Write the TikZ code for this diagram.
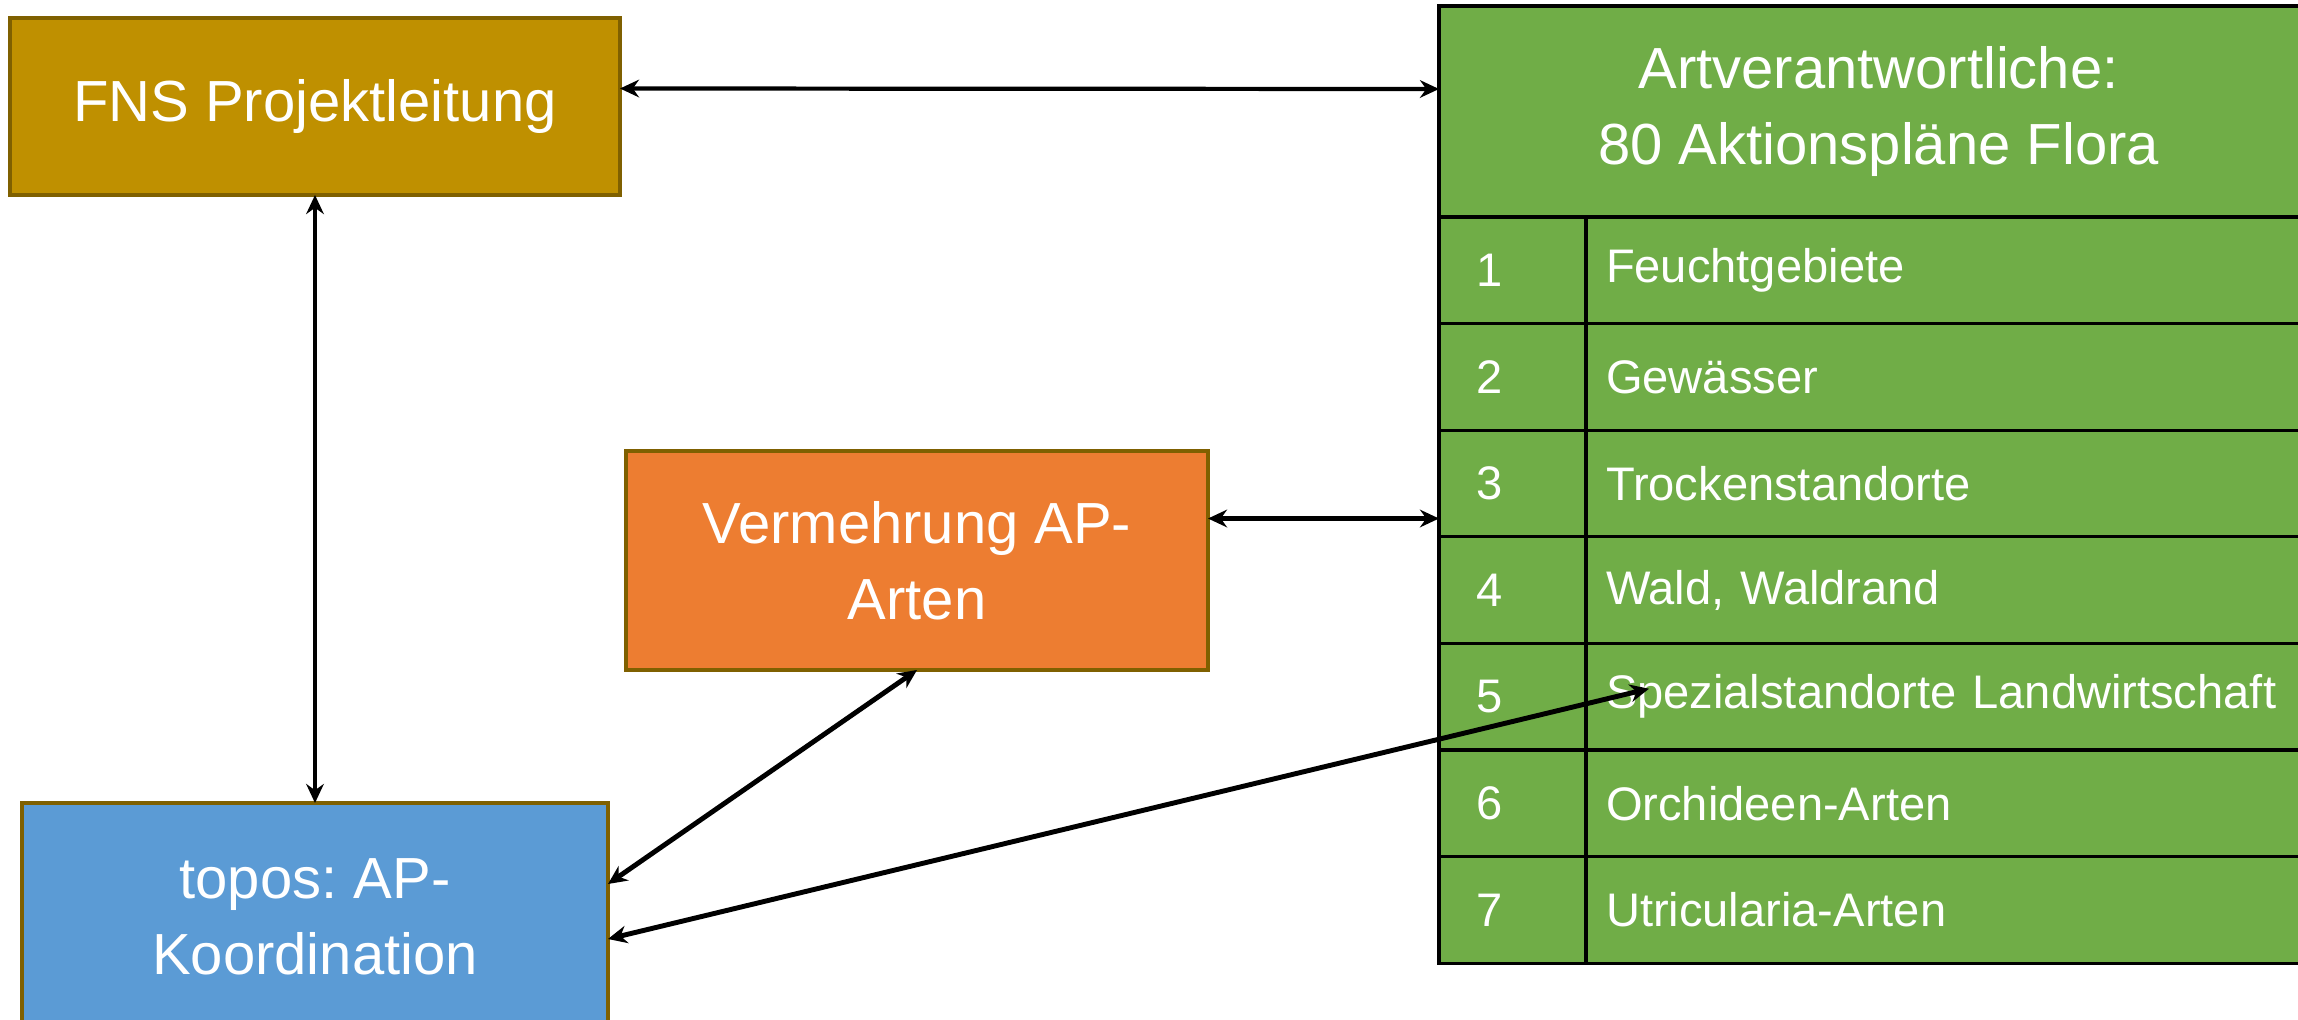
\documentclass[tikz,border=0pt]{standalone}
\usepackage{fontspec}
\setmainfont{Liberation Sans}
\frenchspacing
\usetikzlibrary{positioning,arrows.meta}
\definecolor{fnsgold}{HTML}{BF9000}
\definecolor{apgreen}{HTML}{70AD47}
\definecolor{vmorange}{HTML}{ED7D31}
\definecolor{toposblue}{HTML}{5B9BD5}
\definecolor{boxedge}{HTML}{7F6000}
\begin{document}
\begin{tikzpicture}
  \tikzset{
    boxnode/.style={
      rectangle,
      draw=boxedge,
      line width=0.9pt,
      text=white,
      font=\fontsize{16.5}{21.5}\selectfont,
      align=center,
      outer sep=0pt
    },
    cellbox/.style={
      rectangle,
      draw=black,
      line width=0.9pt,
      fill=apgreen,
      text=white,
      outer sep=0pt
    },
    cellnum/.style={
      cellbox,
      anchor=north west,
      minimum width=1.47cm,
      minimum height=1.066cm,
      text width=0.73cm,
      inner xsep=0.37cm,
      align=left,
      font=\fontsize{13.4}{16}\selectfont
    },
    celltxt/.style={
      cellbox,
      minimum height=1.066cm,
      text width=6.92cm,
      inner xsep=0.2cm,
      align=left,
      font=\fontsize{13.4}{16}\selectfont
    },
    link/.style={
      {Stealth[length=5.4pt,width=5pt]}-{Stealth[length=5.4pt,width=5pt]},
      line width=1.2pt
    }
  }

  \useasboundingbox (0,0) rectangle (22.98,-10.19);

  \node[boxnode, fill=fnsgold, minimum width=6.1cm, minimum height=1.77cm] (fns) at (3.15,-1.065) {FNS Projektleitung};
  \node[boxnode, fill=vmorange, minimum width=5.82cm, minimum height=2.19cm] (verm) at (9.17,-5.605) {Vermehrung AP-\\Arten};
  \node[boxnode, fill=toposblue, minimum width=5.86cm, minimum height=2.28cm] (topos) at (3.15,-9.17) {topos: AP-\\Koordination};

  \node[cellbox, anchor=north west, minimum width=8.79cm, minimum height=2.11cm, align=center, font=\fontsize{16.5}{21.5}\selectfont] (head) at (14.39,-0.06) {Artverantwortliche:\\80 Aktionspläne Flora};

  \foreach \nr/\name in {1/Feuchtgebiete, 2/Gewässer, 3/Trockenstandorte, 4/{Wald, Waldrand}, 5/Spezialstandorte Landwirtschaft, 6/Orchideen-Arten, 7/Utricularia-Arten}{
    \node[cellnum] (n\nr) at (14.39,{-2.17-(\nr-1)*1.066}) {\nr};
    \node[celltxt, right=0pt of n\nr] (t\nr) {\name};
  }

  \draw[link] ([yshift=1.8mm]fns.east) -- ([yshift=2.25mm]head.west);
  \draw[link] (fns.south) -- (topos.north);
  \draw[link] ([yshift=4.2mm]verm.east) -- ([yshift=4.2mm]verm.east -| head.west);
  \draw[link, line width=1.4pt] (verm.south) -- ([yshift=3.3mm]topos.east);
  \draw[link, line width=1.4pt] ([yshift=-2.2mm]topos.east) -- ([xshift=6.3mm,yshift=0.8mm]t5.west);
\end{tikzpicture}
\end{document}
